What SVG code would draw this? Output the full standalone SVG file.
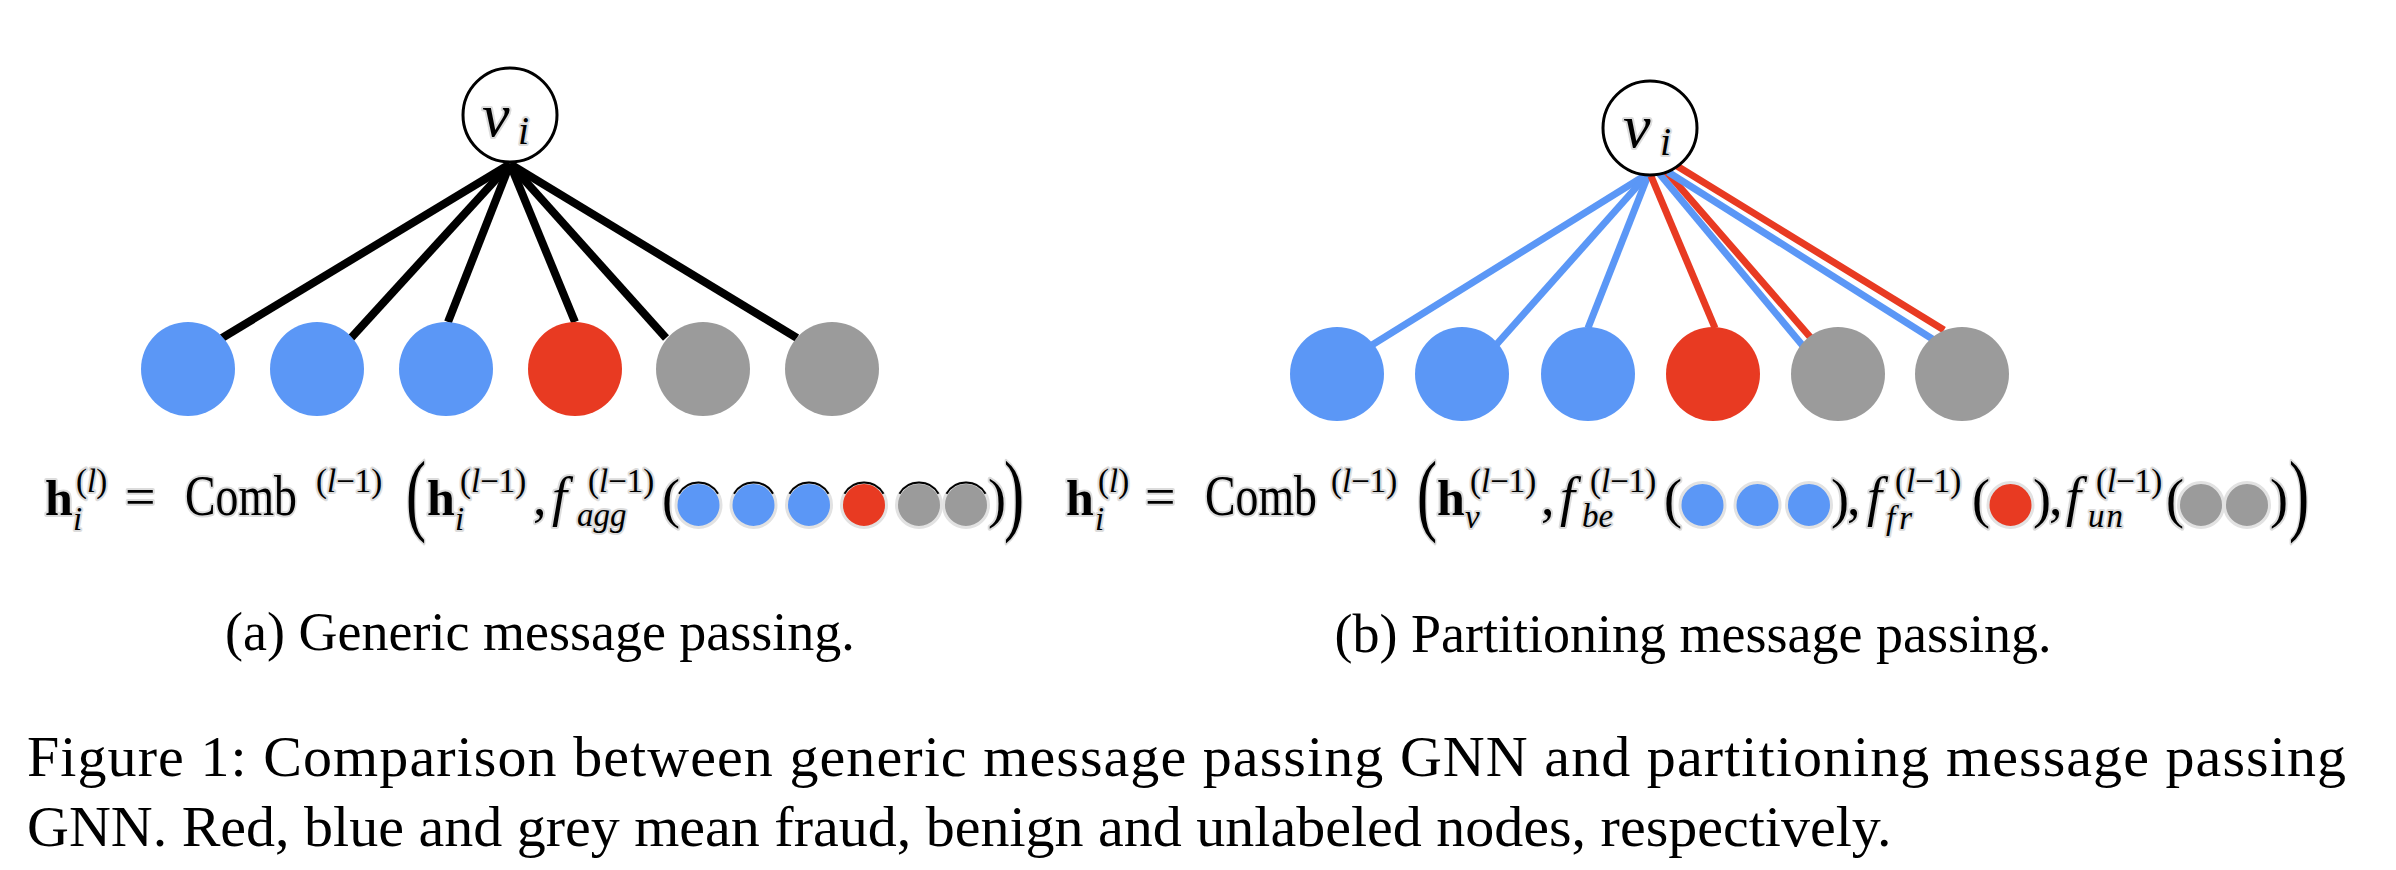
<svg xmlns="http://www.w3.org/2000/svg" width="2396" height="870" viewBox="0 0 2396 870">
<style>
.m{font-family:"Liberation Serif",serif;fill:#000;stroke:#dcdcdc;stroke-width:4;stroke-linejoin:round;paint-order:stroke}
.b{font-weight:bold}
.i{font-style:italic}
.big{font-size:54px}
.hb{font-size:50px;font-weight:bold}
.sm{font-size:33px}
.cap{font-family:"Liberation Serif",serif;fill:#000}
.blue{fill:#5b97f6}
.red{fill:#e83a22}
.grey{fill:#9b9b9b}
.halo{stroke:#e2e2e2;stroke-width:3}
.arc{fill:none;stroke:#000;stroke-width:2}
.apex{fill:#fff;stroke:#000;stroke-width:3}
.ek{stroke:#000;stroke-width:8;fill:none}
.eb{stroke:#5b97f6;stroke-width:7;fill:none}
.er{stroke:#e83a22;stroke-width:7;fill:none}
</style>

<!-- ===== Panel (a) connectors ===== -->
<g id="edges-a">
  <line class="ek" x1="510" y1="164" x2="222" y2="338" stroke-width="9"/>
  <line class="ek" x1="510" y1="164" x2="351" y2="338"/>
  <line class="ek" x1="510" y1="164" x2="448" y2="322"/>
  <line class="ek" x1="510" y1="164" x2="575" y2="322"/>
  <line class="ek" x1="510" y1="164" x2="666" y2="338"/>
  <line class="ek" x1="510" y1="164" x2="797" y2="338" stroke-width="9"/>
</g>
<g id="node-a-vi">
  <circle class="apex" cx="510" cy="115" r="47"/>
  <text class="m i" x="482" y="136" font-size="62">v</text>
  <text class="m i" x="518" y="144" font-size="40">i</text>
</g>
<g id="nodes-a">
  <circle id="a1" class="blue" cx="188" cy="369" r="47"/>
  <circle id="a2" class="blue" cx="317" cy="369" r="47"/>
  <circle id="a3" class="blue" cx="446" cy="369" r="47"/>
  <circle id="a4" class="red" cx="575" cy="369" r="47"/>
  <circle id="a5" class="grey" cx="703" cy="369" r="47"/>
  <circle id="a6" class="grey" cx="832" cy="369" r="47"/>
</g>

<!-- ===== Panel (b) connectors ===== -->
<g id="edges-b">
  <line class="eb" x1="1649" y1="173" x2="1372" y2="345"/>
  <line class="eb" x1="1649" y1="173" x2="1496" y2="345"/>
  <line class="eb" x1="1649" y1="173" x2="1588" y2="328"/>
  <line class="er" x1="1651" y1="176" x2="1715" y2="328"/>
  <line class="eb" x1="1658" y1="172" x2="1803" y2="346"/>
  <line class="er" x1="1665" y1="170" x2="1811" y2="338"/>
  <line class="eb" x1="1668" y1="172" x2="1934" y2="340"/>
  <line class="er" x1="1677" y1="166" x2="1944" y2="330"/>
</g>
<g id="node-b-vi">
  <circle class="apex" cx="1650" cy="128" r="47"/>
  <text class="m i" x="1623" y="147" font-size="62">v</text>
  <text class="m i" x="1660" y="155" font-size="40">i</text>
</g>
<g id="nodes-b">
  <circle id="b1" class="blue" cx="1337" cy="374" r="47"/>
  <circle id="b2" class="blue" cx="1462" cy="374" r="47"/>
  <circle id="b3" class="blue" cx="1588" cy="374" r="47"/>
  <circle id="b4" class="red" cx="1713" cy="374" r="47"/>
  <circle id="b5" class="grey" cx="1838" cy="374" r="47"/>
  <circle id="b6" class="grey" cx="1962" cy="374" r="47"/>
</g>

<!-- ===== Formula (a) ===== -->
<g id="formula-a">
  <text class="m hb" x="45" y="515">h</text>
  <text class="m sm" x="76" y="492">(<tspan class="i">l</tspan>)</text>
  <text class="m sm i" x="73" y="530">i</text>
  <text class="m big" x="125" y="515">=</text>
  <text class="m" font-size="56" transform="translate(185 515) scale(0.818 1)">Comb</text>
  <text class="m sm" x="316" y="492">(<tspan class="i">l</tspan>−1)</text>
  <text class="m" font-size="90" transform="translate(406 524) scale(0.67 1)">(</text>
  <text class="m hb" x="427" y="515">h</text>
  <text class="m sm" x="460" y="492">(<tspan class="i">l</tspan>−1)</text>
  <text class="m sm i" x="455" y="530">i</text>
  <text class="m big" x="533" y="515">,</text>
  <text class="m big i" x="552" y="515">f</text>
  <text class="m sm" x="588" y="492">(<tspan class="i">l</tspan>−1)</text>
  <text class="m sm i" x="577" y="526">agg</text>
  <text class="m big" x="662" y="517">(</text>
  <g>
    <circle class="blue halo" cx="698.5" cy="505" r="22.5"/>
    <circle class="blue halo" cx="753.5" cy="505" r="22.5"/>
    <circle class="blue halo" cx="809" cy="505" r="22.5"/>
    <circle class="red halo" cx="864" cy="505" r="22.5"/>
    <circle class="grey halo" cx="919" cy="505" r="22.5"/>
    <circle class="grey halo" cx="966" cy="505" r="22.5"/>
    <path class="arc" d="M679 493.7A22.5 22.5 0 0 1 718 493.7M734 493.7A22.5 22.5 0 0 1 773 493.7M789.5 493.7A22.5 22.5 0 0 1 828.5 493.7M844.5 493.7A22.5 22.5 0 0 1 883.5 493.7M899.5 493.7A22.5 22.5 0 0 1 938.5 493.7M946.5 493.7A22.5 22.5 0 0 1 985.5 493.7"/>
  </g>
  <text class="m big" x="988" y="517">)</text>
  <text class="m" font-size="90" transform="translate(1004 524) scale(0.67 1)">)</text>
</g>

<!-- ===== Formula (b) ===== -->
<g id="formula-b">
  <text class="m hb" x="1066" y="515">h</text>
  <text class="m sm" x="1098" y="492">(<tspan class="i">l</tspan>)</text>
  <text class="m sm i" x="1095" y="530">i</text>
  <text class="m big" x="1145" y="515">=</text>
  <text class="m" font-size="56" transform="translate(1205 515) scale(0.818 1)">Comb</text>
  <text class="m sm" x="1331" y="492">(<tspan class="i">l</tspan>−1)</text>
  <text class="m" font-size="90" transform="translate(1417 524) scale(0.67 1)">(</text>
  <text class="m hb" x="1437" y="515">h</text>
  <text class="m sm" x="1470" y="492">(<tspan class="i">l</tspan>−1)</text>
  <text class="m sm i" x="1465" y="528">v</text>
  <text class="m big" x="1541" y="515">,</text>
  <text class="m big i" x="1560" y="515">f</text>
  <text class="m sm" x="1590" y="492">(<tspan class="i">l</tspan>−1)</text>
  <text class="m sm i" x="1582" y="527">be</text>
  <text class="m big" x="1664" y="517">(</text>
  <circle class="blue halo" cx="1702.5" cy="505" r="22.5"/>
  <circle class="blue halo" cx="1757.5" cy="505" r="22.5"/>
  <circle class="blue halo" cx="1809" cy="505" r="22.5"/>
  <text class="m big" x="1831" y="517">)</text>
  <text class="m big" x="1847" y="515">,</text>
  <text class="m big i" x="1867" y="515">f</text>
  <text class="m sm" x="1895" y="492">(<tspan class="i">l</tspan>−1)</text>
  <text class="m sm i" x="1886" y="529" letter-spacing="4">fr</text>
  <text class="m big" x="1972" y="517">(</text>
  <circle class="red halo" cx="2010.5" cy="505" r="22.5"/>
  <text class="m big" x="2033" y="517">)</text>
  <text class="m big" x="2049" y="515">,</text>
  <text class="m big i" x="2066" y="515">f</text>
  <text class="m sm" x="2096" y="492">(<tspan class="i">l</tspan>−1)</text>
  <text class="m sm i" x="2088" y="527" letter-spacing="2">un</text>
  <text class="m big" x="2166" y="517">(</text>
  <circle class="grey halo" cx="2201" cy="505" r="22.5"/>
  <circle class="grey halo" cx="2247" cy="505" r="22.5"/>
  <text class="m big" x="2270" y="517">)</text>
  <text class="m" font-size="90" transform="translate(2289 524) scale(0.67 1)">)</text>
</g>

<!-- ===== Captions ===== -->
<g id="captions">
  <text class="cap" x="540" y="650" font-size="54" text-anchor="middle">(a) Generic message passing.</text>
  <text class="cap" x="1693" y="652" font-size="54" text-anchor="middle">(b) Partitioning message passing.</text>
  <text class="cap" x="27" y="776" font-size="58" textLength="2319" lengthAdjust="spacing">Figure 1:  Comparison between generic message passing GNN and partitioning message passing</text>
  <text class="cap" x="27" y="846" font-size="58">GNN. Red, blue and grey mean fraud, benign and unlabeled nodes, respectively.</text>
</g>
</svg>
